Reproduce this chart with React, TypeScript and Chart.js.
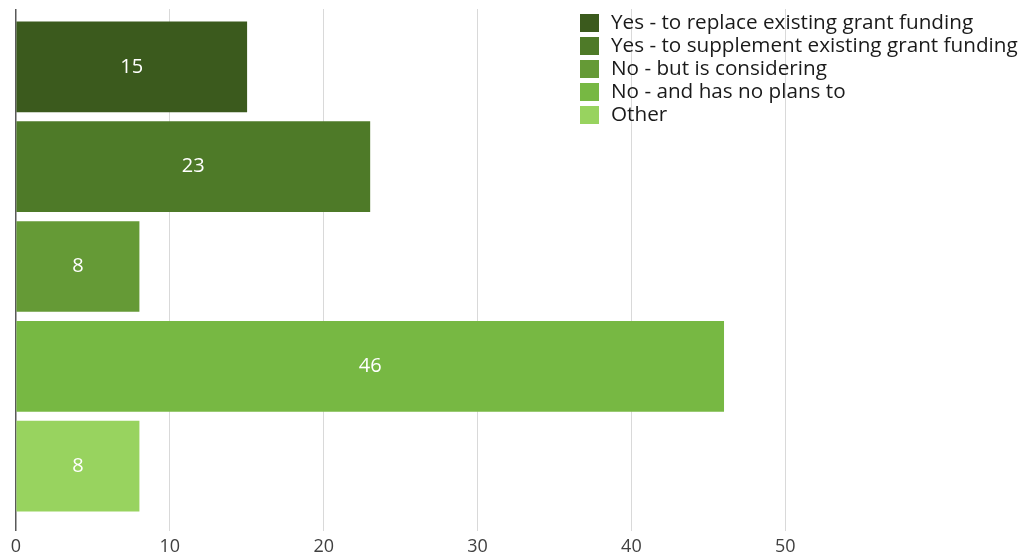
import React, { useEffect, useRef } from "react";
import { Chart, registerables } from "chart.js";

Chart.register(...registerables);

const categories = [
  "Yes - to replace existing grant funding",
  "Yes - to supplement existing grant funding",
  "No - but is considering",
  "No - and has no plans to",
  "Other",
];
const values = [15, 23, 8, 46, 8];
const colors = ["#3b5a1d", "#4e7a28", "#659a36", "#77b843", "#98d35f"];
const xTickMax = 50;

const FONT = "'Open Sans', Lato, sans-serif";

export default function App() {
  const ref = useRef<HTMLCanvasElement>(null);

  useEffect(() => {
    document.body.style.margin = "0";
    const canvas = ref.current;
    if (!canvas) return;

    const labelPlugin = {
      id: "barValueLabels",
      afterDatasetsDraw(chart: any) {
        const ctx = chart.ctx;
        ctx.save();
        ctx.font = `20px ${FONT}`;
        ctx.fillStyle = "#ffffff";
        ctx.textAlign = "center";
        ctx.textBaseline = "middle";
        chart.data.datasets.forEach((ds: any, i: number) => {
          const meta = chart.getDatasetMeta(i);
          meta.data.forEach((el: any, j: number) => {
            const { x, y, base } = el.getProps(["x", "y", "base"], true);
            ctx.fillText(String(ds.data[j].x), (x + base) / 2, y);
          });
        });
        ctx.restore();
      },
    };

    const legendPlugin = {
      id: "overlayLegend",
      afterDraw(chart: any) {
        const ctx = chart.ctx;
        const area = chart.chartArea;
        const x0 = area.left + 564;
        const y0 = area.top + 14;
        const rowH = 23;
        ctx.save();
        ctx.font = `20.7px ${FONT}`;
        ctx.textBaseline = "middle";
        ctx.textAlign = "left";
        chart.data.datasets.forEach((ds: any, i: number) => {
          const cy = y0 + i * rowH;
          ctx.fillStyle = ds.backgroundColor;
          ctx.fillRect(x0, cy - 9, 19, 18);
          ctx.fillStyle = "#1a1a1a";
          ctx.fillText(ds.label, x0 + 31, cy);
        });
        ctx.restore();
      },
    };

    const chart = new Chart(canvas, {
      type: "bar",
      data: {
        datasets: categories.map((label, i) => ({
          label,
          data: [{ x: values[i], y: i }],
          backgroundColor: colors[i],
          borderWidth: 0,
          barThickness: 90,
          grouped: false,
        })),
      },
      options: {
        indexAxis: "y",
        animation: false,
        responsive: false,
        devicePixelRatio: 1,
        layout: { padding: { left: 16, top: 9, right: 6, bottom: 0 } },
        plugins: {
          legend: { display: false },
          tooltip: { enabled: false },
        },
        scales: {
          x: {
            type: "linear",
            min: 0,
            max: 65,
            border: { display: false },
            grid: {
              drawTicks: false,
              color: (c: any) =>
                c.tick && c.tick.value === 0
                  ? "#595959"
                  : c.tick && c.tick.value <= xTickMax
                  ? "#d9d9d9"
                  : "rgba(0,0,0,0)",
              lineWidth: (c: any) => (c.tick && c.tick.value === 0 ? 1.5 : 1),
            },
            ticks: {
              stepSize: 10,
              padding: 5,
              color: "#404040",
              font: { family: FONT, size: 18 },
              callback: (v: any) => (Number(v) <= xTickMax ? String(v) : ""),
            },
            afterFit: (s: any) => {
              s.height = 27;
            },
          },
          y: {
            type: "linear",
            min: -0.58,
            max: 4.65,
            reverse: true,
            offset: false,
            display: false,
          },
        },
      } as any,
      plugins: [labelPlugin, legendPlugin],
    } as any);

    return () => chart.destroy();
  }, []);

  return (
    <div style={{ width: 1022, height: 558 }}>
      <canvas ref={ref} width={1022} height={558} style={{ display: "block" }} />
    </div>
  );
}
